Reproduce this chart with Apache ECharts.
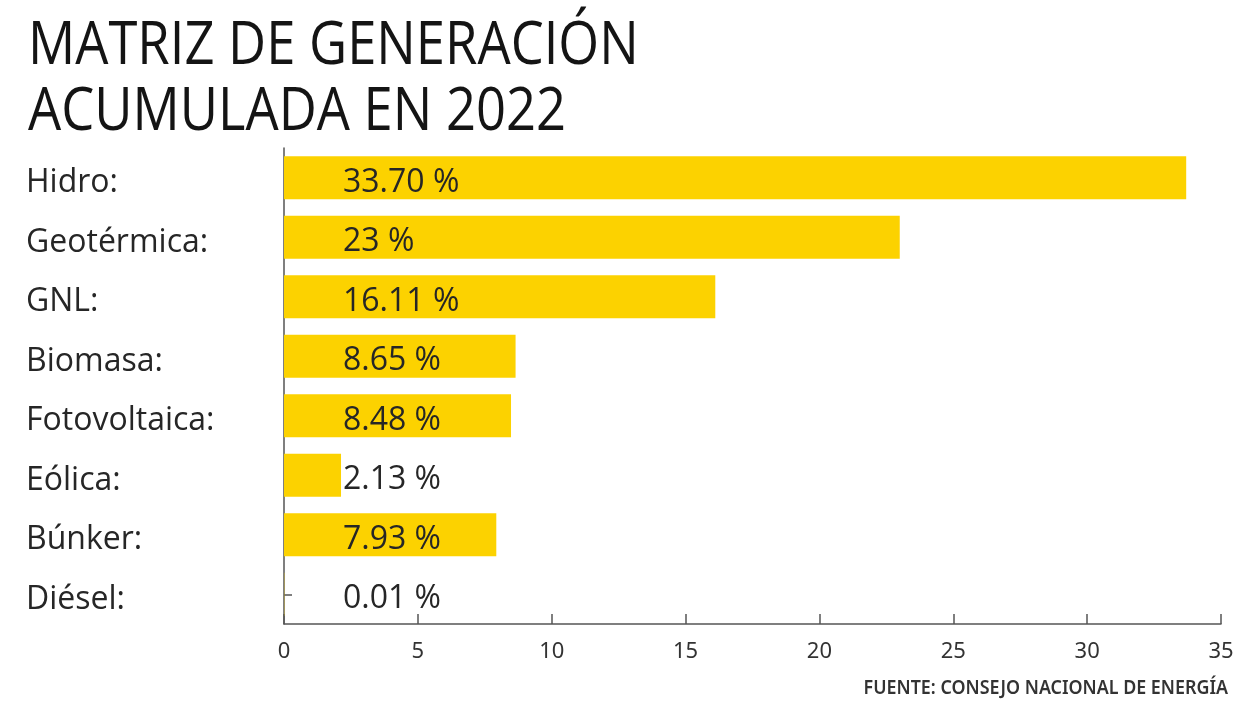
<!DOCTYPE html>
<html>
<head>
<meta charset="utf-8">
<script src="https://cdn.jsdelivr.net/npm/echarts@6/dist/echarts.min.js"></script>
<style>
  html, body { margin: 0; padding: 0; background: #fff; }
  #chart { width: 1248px; height: 705px; }
</style>
</head>
<body>
<div id="chart"></div>
<script>
// Generation mix, share of accumulated 2022 generation (%)
const categories = ['Hidro:', 'Geotérmica:', 'GNL:', 'Biomasa:', 'Fotovoltaica:', 'Eólica:', 'Búnker:', 'Diésel:'];
const shares = [33.70, 23, 16.11, 8.65, 8.48, 2.13, 7.93, 0.01];
const shareLabels = ['33.70 %', '23 %', '16.11 %', '8.65 %', '8.48 %', '2.13 %', '7.93 %', '0.01 %'];
const xTicks = [0, 5, 10, 15, 20, 25, 30, 35];

const titleText = 'MATRIZ DE GENERACIÓN\nACUMULADA EN 2022';
const sourceText = 'FUENTE: CONSEJO NACIONAL DE ENERGÍA';

const chart = echarts.init(document.getElementById('chart'), null, { renderer: 'canvas' });

const axisColor = '#555';
const textColor = '#262626';
const bodyFont = '"Open Sans", "Noto Sans", sans-serif';

chart.setOption({
  animation: false,
  backgroundColor: '#fff',
  grid: { left: 284, top: 148, width: 937, height: 476, containLabel: false },
  xAxis: {
    type: 'value',
    min: xTicks[0],
    max: xTicks[xTicks.length - 1],
    interval: xTicks[1] - xTicks[0],
    axisLine: { show: true, lineStyle: { color: axisColor, width: 1.5 } },
    axisTick: { show: true, inside: true, length: 10, lineStyle: { color: axisColor, width: 1.5 } },
    splitLine: { show: false },
    axisLabel: { margin: 17, fontSize: 22, color: '#333', fontFamily: '"Noto Sans", sans-serif' }
  },
  yAxis: {
    type: 'category',
    inverse: true,
    data: categories,
    axisLine: { show: true, lineStyle: { color: axisColor, width: 1.5 } },
    axisTick: { show: true, inside: true, alignWithLabel: true, length: 8, lineStyle: { color: axisColor, width: 1.5 } },
    axisLabel: {
      align: 'left',
      margin: 258,
      formatter: v => '{cat|' + v + '}',
      rich: {
        cat: {
          fontSize: 32,
          padding: [11, 0, 0, 0],
          color: textColor,
          fontFamily: bodyFont
        }
      }
    }
  },
  series: [{
    type: 'bar',
    data: shares,
    barWidth: 43,
    itemStyle: { color: '#FCD200' },
    label: {
      show: true,
      position: [59, '50%'],
      align: 'left',
      verticalAlign: 'middle',
      offset: [0, 5],
      fontSize: 32,
      color: textColor,
      fontFamily: bodyFont,
      formatter: p => shareLabels[p.dataIndex]
    }
  }],
  graphic: [
    {
      type: 'text',
      x: 28,
      y: 14,
      scaleX: 0.875,
      style: {
        text: titleText,
        fontSize: 60,
        lineHeight: 66,
        fontFamily: bodyFont,
        fill: '#141414'
      }
    },
    {
      type: 'text',
      x: 1228,
      y: 689,
      scaleX: 0.94,
      style: {
        text: sourceText,
        align: 'right',
        verticalAlign: 'middle',
        fontSize: 19,
        fontWeight: 600,
        fontFamily: '"Noto Sans", sans-serif',
        fill: '#333'
      }
    }
  ]
});
</script>
</body>
</html>
